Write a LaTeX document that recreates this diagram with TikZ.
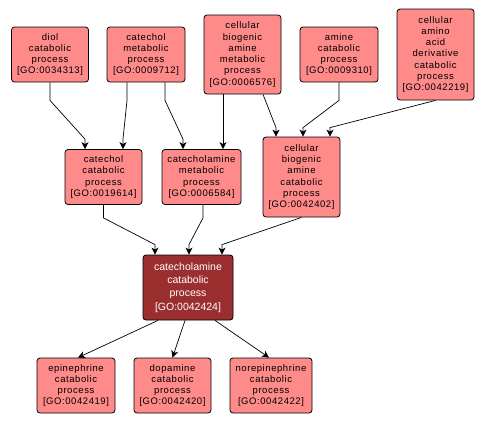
\documentclass[tikz,border=0pt]{standalone}
\usepackage{fontspec}
\setmainfont{Liberation Sans}
\newfontfamily\lsp[LetterSpace=6]{Liberation Sans}
\usetikzlibrary{arrows.meta,calc}
\definecolor{pinkfill}{RGB}{255,138,138}
\definecolor{darkfill}{RGB}{155,46,46}
\tikzset{
  gobox/.style={draw=black, line width=0.8pt, fill=pinkfill, rounded corners=3pt, align=center,
    font=\lsp\fontsize{9.5}{11.3}\selectfont, inner sep=1pt, minimum width=77pt, minimum height=55pt},
  mainbox/.style={gobox, fill=darkfill, text=white, font=\fontsize{10.5}{13.3}\selectfont,
    minimum width=90pt, minimum height=65pt},
  edge/.style={line width=0.7pt, -{Stealth[length=7pt,width=7pt,inset=2pt]}},
}
\begin{document}
\begin{tikzpicture}[x=1pt,y=-1pt]
\useasboundingbox (0,0) rectangle (486,424);
% top row
\node[gobox] (diol) at (50,54.5) {diol\\catabolic\\process\\{[GO:0034313]}};
\node[gobox, minimum width=78pt] (cmet) at (146,54.5) {catechol\\metabolic\\process\\{[GO:0009712]}};
\node[gobox, minimum height=79pt] (cbam) at (242.5,54.5) {cellular\\biogenic\\amine\\metabolic\\process\\{[GO:0006576]}};
\node[gobox, minimum width=78pt] (amin) at (339,54.5) {amine\\catabolic\\process\\{[GO:0009310]}};
\node[gobox, minimum height=91pt] (aad) at (435.5,54.5) {cellular\\amino\\acid\\derivative\\catabolic\\process\\{[GO:0042219]}};
% middle row
\node[gobox] (ccat) at (103.5,177) {catechol\\catabolic\\process\\{[GO:0019614]}};
\node[gobox, minimum width=79pt] (camet) at (201.5,177) {catecholamine\\metabolic\\process\\{[GO:0006584]}};
\node[gobox, minimum height=80pt] (cbac) at (301.5,177) {cellular\\biogenic\\amine\\catabolic\\process\\{[GO:0042402]}};
% center
\node[mainbox] (main) at (188,287.5) {catecholamine\\catabolic\\process\\{[GO:0042424]}};
% bottom row
\node[gobox, minimum width=78pt] (epi) at (76,385.5) {epinephrine\\catabolic\\process\\{[GO:0042419]}};
\node[gobox] (dop) at (172.5,385.5) {dopamine\\catabolic\\process\\{[GO:0042420]}};
\node[gobox, minimum width=82pt] (nor) at (271,385.5) {norepinephrine\\catabolic\\process\\{[GO:0042422]}};
% edges
\draw[edge] (diol.south) -- ++(0,18) -- ($(ccat.north)+(-18.5,-10)$) -- ($(ccat.north)+(-18.5,0)$);
\draw[edge] ($(cmet.south)+(-19,0)$) -- ++(0,18) -- ($(ccat.north)+(19.5,-10)$) -- ($(ccat.north)+(19.5,0)$);
\draw[edge] ($(cmet.south)+(19,0)$) -- ++(0,18) -- ($(camet.north)+(-18.5,-10)$) -- ($(camet.north)+(-18.5,0)$);
\draw[edge] ($(cbam.south)+(-19.5,0)$) -- ($(camet.north)+(21.5,0)$);
\draw[edge] ($(cbam.south)+(20.5,0)$) -- ($(cbac.north)+(-25.5,-9)$) -- ($(cbac.north)+(-25.5,0)$);
\draw[edge] (amin.south) -- ++(0,18) -- ($(cbac.north)+(1.5,-9)$) -- ($(cbac.north)+(1.5,0)$);
\draw[edge] (aad.south) -- ($(cbac.north)+(28.5,-9)$) -- ($(cbac.north)+(28.5,0)$);
\draw[edge] (ccat.south) -- ++(0,13) -- ($(main.north)+(-33,-10)$) -- ($(main.north)+(-33,0)$);
\draw[edge] ($(camet.south)+(1.5,0)$) -- ++(0,13) -- ($(main.north)+(1,-10)$) -- ($(main.north)+(1,0)$);
\draw[edge] (cbac.south) -- ($(main.north)+(34,-10)$) -- ($(main.north)+(34,0)$);
\draw[edge] ($(main.south)+(-30,0)$) -- ($(epi.north)+(2,0)$);
\draw[edge] ($(main.south)+(-3,0)$) -- ($(dop.north)+(0,0)$);
\draw[edge] ($(main.south)+(27,0)$) -- ($(nor.north)+(-2,0)$);
\end{tikzpicture}
\end{document}
